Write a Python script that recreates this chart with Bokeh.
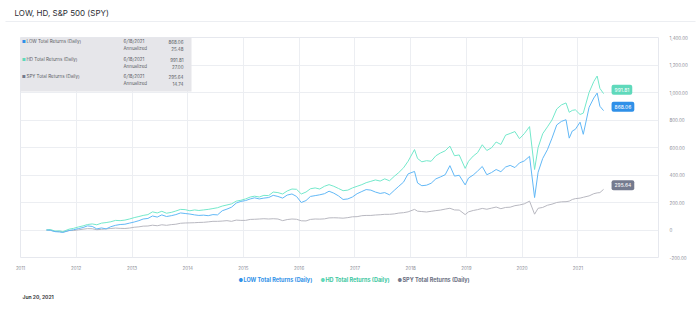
from datetime import datetime
import pandas as pd
from bokeh.plotting import figure
from bokeh.layouts import column
from bokeh.models import (ColumnDataSource, Range1d, FixedTicker, DatetimeTickFormatter,
                          Label, BoxAnnotation)
from bokeh.embed import file_html
from bokeh.resources import INLINE

# ---------------- data ----------------
dates = [
    "2011-06-20", "2011-07-15", "2011-08-15", "2011-09-15", "2011-10-05", "2011-11-15", "2011-12-15",
    "2012-01-15", "2012-02-15", "2012-03-15", "2012-04-15", "2012-05-15", "2012-06-15",
    "2012-07-15", "2012-08-15", "2012-09-15", "2012-10-15", "2012-11-15", "2012-12-15",
    "2013-01-15", "2013-02-15", "2013-03-15", "2013-04-15", "2013-05-15", "2013-06-15",
    "2013-07-15", "2013-08-15", "2013-09-15", "2013-10-15", "2013-11-15", "2013-12-15",
    "2014-01-15", "2014-02-15", "2014-03-15", "2014-04-15", "2014-05-15", "2014-06-15",
    "2014-07-15", "2014-08-15", "2014-09-15", "2014-10-15", "2014-11-15", "2014-12-15",
    "2015-01-15", "2015-02-15", "2015-03-15", "2015-04-15", "2015-05-15", "2015-06-15",
    "2015-07-15", "2015-08-15", "2015-09-15", "2015-10-15", "2015-11-15", "2015-12-15",
    "2016-01-15", "2016-02-15", "2016-03-15", "2016-04-15", "2016-05-15", "2016-06-15",
    "2016-07-15", "2016-08-15", "2016-09-15", "2016-10-15", "2016-11-15", "2016-12-15",
    "2017-01-15", "2017-02-15", "2017-03-15", "2017-04-15", "2017-05-15", "2017-06-15",
    "2017-07-15", "2017-08-15", "2017-09-15", "2017-10-15", "2017-11-15", "2017-12-15",
    "2018-01-26", "2018-02-15", "2018-03-15", "2018-04-15", "2018-05-15", "2018-06-15",
    "2018-07-15", "2018-08-15", "2018-09-15", "2018-10-15", "2018-11-15", "2018-12-24",
    "2019-01-15", "2019-02-15", "2019-03-15", "2019-04-15", "2019-05-15", "2019-06-15",
    "2019-07-15", "2019-08-15", "2019-09-15", "2019-10-15", "2019-11-15", "2019-12-15",
    "2020-01-15", "2020-02-19", "2020-03-23", "2020-04-15", "2020-05-15", "2020-06-15",
    "2020-07-15", "2020-08-15", "2020-09-15", "2020-10-15", "2020-11-05", "2020-11-25",
    "2020-12-15", "2021-01-15", "2021-02-05", "2021-03-15", "2021-04-15", "2021-05-07",
    "2021-05-25", "2021-06-18",
]

hd_returns = [
    0, 4, -8, -6, -12, 6, 12,
    22, 30, 40, 44, 38, 50,
    54, 60, 70, 68, 72, 80,
    90, 98, 106, 112, 132, 124,
    136, 122, 128, 138, 150, 148,
    140, 146, 142, 146, 150, 156,
    162, 174, 182, 190, 210, 216,
    226, 240, 246, 240, 252, 250,
    276, 272, 262, 284, 298, 296,
    262, 276, 300, 306, 298, 318,
    330, 318, 302, 286, 290, 306,
    318, 330, 344, 354, 364, 356,
    372, 358, 390, 418, 452, 500,
    585, 520, 496, 504, 500, 540,
    560, 576, 610, 540, 546, 448,
    500, 538, 562, 620, 578, 598,
    640, 622, 690, 702, 716, 664,
    700, 752, 440, 600, 700, 750,
    800, 880, 910, 924, 856, 870,
    874, 840, 850, 1000, 1080, 1120,
    1030, 991.81,
]

low_returns = [
    0, -2, -12, -14, -18, -4, 2,
    10, 18, 30, 26, 8, 15,
    8, 24, 34, 40, 42, 50,
    58, 68, 80, 84, 102, 94,
    110, 98, 104, 112, 124, 120,
    116, 110, 106, 108, 104, 112,
    110, 140, 152, 166, 196, 208,
    214, 226, 234, 226, 232, 236,
    252, 244, 232, 254, 262, 244,
    200, 214, 244, 250, 256, 264,
    282, 268, 248, 222, 226, 240,
    264, 280, 294, 290, 276, 266,
    272, 256, 288, 318, 348, 408,
    426, 342, 322, 326, 340, 372,
    386, 402, 468, 392, 398, 328,
    378, 400, 428, 462, 402, 418,
    440, 424, 458, 470, 454, 488,
    502, 536, 236, 420, 520, 584,
    668, 764, 790, 802, 668, 720,
    732, 784, 696, 892, 960, 996,
    900, 868.06,
]

spy_returns = [
    0, -1, -10, -12, -15, -4, -4,
    1, 6, 10, 9, 2, 5,
    8, 11, 14, 12, 11, 14,
    20, 23, 28, 29, 35, 31,
    38, 34, 39, 42, 49, 51,
    52, 53, 55, 56, 59, 63,
    63, 65, 68, 63, 72, 70,
    70, 77, 78, 80, 82, 80,
    82, 80, 68, 76, 80, 78,
    67, 66, 77, 80, 79, 81,
    88, 89, 88, 86, 90, 96,
    97, 104, 106, 106, 109, 111,
    114, 114, 117, 123, 126, 132,
    150, 137, 134, 131, 136, 141,
    145, 152, 158, 146, 145, 112,
    132, 142, 148, 157, 151, 159,
    167, 155, 164, 166, 177, 182,
    190, 210, 115, 158, 164, 180,
    188, 200, 205, 206, 210, 222,
    228, 232, 238, 248, 264, 270,
    272, 295.64,
]

series_names = ["LOW Total Returns (Daily)", "HD Total Returns (Daily)", "SPY Total Returns (Daily)"]
last_date_text = "6/18/2021"
last_values_text = ["868.06", "991.81", "295.64"]
annualized_text = ["25.48", "27.00", "14.74"]
x_tick_years = list(range(2011, 2022))
y_ticks = [-200, 0, 200, 400, 600, 800, 1000, 1200, 1400]
y_tick_labels = ["-200.00", "0", "200.00", "400.00", "600.00", "800.00", "1,000.00", "1,200.00", "1,400.00"]
chart_title = "LOW, HD, S&P 500 (SPY)"
footnote = "Jun 20, 2021"

# ---------------- styling ----------------
FONT = "Inter"
LOW_LINE, LOW_TAG = "#62b8f6", "#2f90e8"
HD_LINE, HD_TAG = "#74e8cb", "#5fd9bb"
SPY_LINE, SPY_TAG = "#b8b8c0", "#747a8e"
LOW_TXT, HD_TXT, SPY_TXT = "#2f90e8", "#3cc79f", "#6b7082"
W = 700


def bare(height):
    f = figure(width=W, height=height, output_backend="svg", toolbar_location=None,
               x_range=Range1d(0, W), y_range=Range1d(0, height),
               x_axis_location=None, y_axis_location=None, title=None,
               min_border=0, min_border_left=0, min_border_right=0,
               min_border_top=0, min_border_bottom=0, frame_align=False)
    f.grid.visible = False
    f.outline_line_color = None
    f.background_fill_color = "white"
    f.border_fill_color = "white"
    return f


def slabel(fig, x, y, text, size, color, align="left", weight="normal", baseline="middle"):
    fig.add_layout(Label(x=x, y=y, x_units="screen", y_units="screen", text=text,
                         text_font=FONT, text_font_size=size, text_color=color,
                         text_align=align, text_baseline=baseline, text_font_style=weight))


# ---------------- header ----------------
head = bare(33)
slabel(head, 14, 21, chart_title, "8px", "#2b2d33")
head.add_layout(BoxAnnotation(left=5, right=695, bottom=11.5, top=12.5,
                              left_units="screen", right_units="screen",
                              bottom_units="screen", top_units="screen",
                              fill_color="#eceef2", fill_alpha=1, line_color=None))

# ---------------- main chart ----------------
src = ColumnDataSource(dict(date=pd.to_datetime(dates), low=low_returns, hd=hd_returns, spy=spy_returns))

p = figure(width=W, height=239, x_axis_type="datetime", y_axis_location="right",
           output_backend="svg", toolbar_location=None, title=None, frame_align=False,
           x_range=Range1d(datetime(2011, 1, 1), datetime(2022, 6, 13)),
           y_range=Range1d(-200, 1400),
           min_border_left=20, min_border_right=42, min_border_top=4, min_border_bottom=13)
p.background_fill_color = "white"
p.border_fill_color = "white"
p.outline_line_color = "#e6e8ee"
p.outline_line_width = 1

p.line("date", "spy", source=src, color=SPY_LINE, line_width=1)
p.line("date", "hd", source=src, color=HD_LINE, line_width=1)
p.line("date", "low", source=src, color=LOW_LINE, line_width=1)

xticks = [pd.Timestamp(f"{y}-01-01").value / 1e6 for y in x_tick_years]
p.xaxis.ticker = FixedTicker(ticks=xticks)
p.xaxis.formatter = DatetimeTickFormatter(years="%Y", months="%Y", days="%Y")
p.yaxis.ticker = FixedTicker(ticks=y_ticks)
p.yaxis.major_label_overrides = dict(zip(y_ticks, y_tick_labels))
for ax in (p.xaxis[0], p.yaxis[0]):
    ax.axis_line_color = None
    ax.major_tick_line_color = None
    ax.minor_tick_line_color = None
    ax.major_label_text_font = FONT
    ax.major_label_text_font_size = "4.5px"
    ax.major_label_text_color = "#8a8d96"
p.xaxis.major_label_standoff = 2
p.yaxis.major_label_standoff = 5
p.xgrid.grid_line_color = "#eceef2"
p.ygrid.grid_line_color = "#eceef2"

# info box (screen units relative to frame bottom-left)
p.add_layout(BoxAnnotation(left=-2, right=171, bottom=166, top=222,
                           left_units="screen", right_units="screen",
                           bottom_units="screen", top_units="screen",
                           fill_color="#e6e6ea", fill_alpha=1, line_color=None))
rows_y = [216, 198, 181]
dot_colors = [LOW_TAG, HD_TAG, SPY_TAG]
for i in range(3):
    y0 = rows_y[i]
    slabel(p, 1.5, y0, "■", "4px", dot_colors[i])
    slabel(p, 6, y0, series_names[i], "4.5px", "#5a5d64")
    slabel(p, 103, y0, last_date_text, "4.5px", "#5a5d64")
    slabel(p, 163, y0, last_values_text[i], "4.5px", "#5a5d64", align="right")
    slabel(p, 103, y0 - 7, "Annualized", "4.5px", "#5a5d64")
    slabel(p, 163, y0 - 7, annualized_text[i], "4.5px", "#5a5d64", align="right")

# end value tags
last = pd.to_datetime(dates[-1])
tag_vals = [low_returns[-1], hd_returns[-1], spy_returns[-1]]
tag_cols = [LOW_TAG, HD_TAG, SPY_TAG]
for i in range(3):
    p.add_layout(Label(x=last, y=tag_vals[i], text=last_values_text[i], x_offset=8, y_offset=4,
                       text_font=FONT, text_font_size="5px", text_color="white",
                       text_align="left", text_baseline="middle",
                       background_fill_color=tag_cols[i], background_fill_alpha=1,
                       padding=3, border_radius=2))

# ---------------- footer ----------------
foot = bare(38)
leg_x = [238, 320, 397]
leg_txt_cols = [LOW_TXT, HD_TXT, SPY_TXT]
for i in range(3):
    slabel(foot, leg_x[i], 31, "●", "5px", tag_cols[i])
    slabel(foot, leg_x[i] + 5, 31, series_names[i], "5.5px", leg_txt_cols[i], weight="bold")
slabel(foot, 22, 14, footnote, "5px", "#3a3c42", weight="bold")

layout = column(head, p, foot, spacing=0)
open("out.html", "w").write(file_html(layout, INLINE))
